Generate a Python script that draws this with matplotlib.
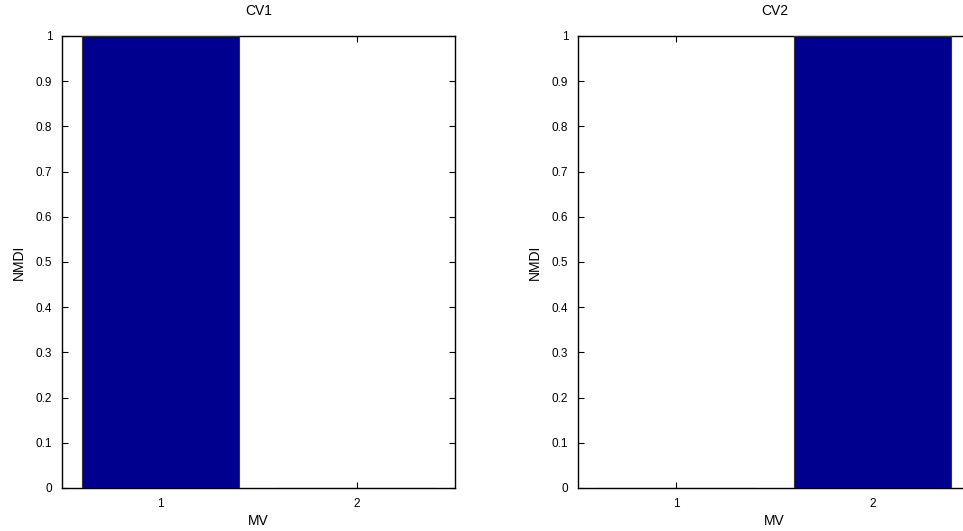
import matplotlib.pyplot as plt
import numpy as np

plt.rcParams['font.family'] = ['Liberation Sans', 'DejaVu Sans']

mv = [1, 2]
cv1 = [1, 0]
cv2 = [0, 1]
titles = ["CV1", "CV2"]
yticks = [0, 0.1, 0.2, 0.3, 0.4, 0.5, 0.6, 0.7, 0.8, 0.9, 1]
ytick_labels = ["0", "0.1", "0.2", "0.3", "0.4", "0.5", "0.6", "0.7", "0.8", "0.9", "1"]

fig = plt.figure(figsize=(9.63, 5.31), dpi=100)
W, H = 963, 531
positions = [(62, 36, 393, 452), (578, 36, 393, 452)]

for (x0, y0, w, h), vals, title in zip(positions, [cv1, cv2], titles):
    ax = fig.add_axes([x0 / W, (H - y0 - h) / H, w / W, h / H])
    ax.bar(mv, vals, width=0.8, color="#00008F", edgecolor="#333333", linewidth=0.8, zorder=3)
    ax.set_xlim(0.5, 2.5)
    ax.set_ylim(0, 1)
    ax.set_xticks(mv)
    ax.set_xticklabels([str(m) for m in mv])
    ax.set_yticks(yticks)
    ax.set_yticklabels(ytick_labels)
    ax.tick_params(direction="in", top=True, right=True, length=4, width=0.8,
                   labelsize=8.5, pad=7)
    for s in ax.spines.values():
        s.set_linewidth(1.0)
    ax.set_title(title, fontsize=10, pad=15)
    ax.set_xlabel("MV", fontsize=10, labelpad=3)
    ax.set_ylabel("NMDI", fontsize=10, labelpad=7)

fig.savefig("out.png", dpi=100)
